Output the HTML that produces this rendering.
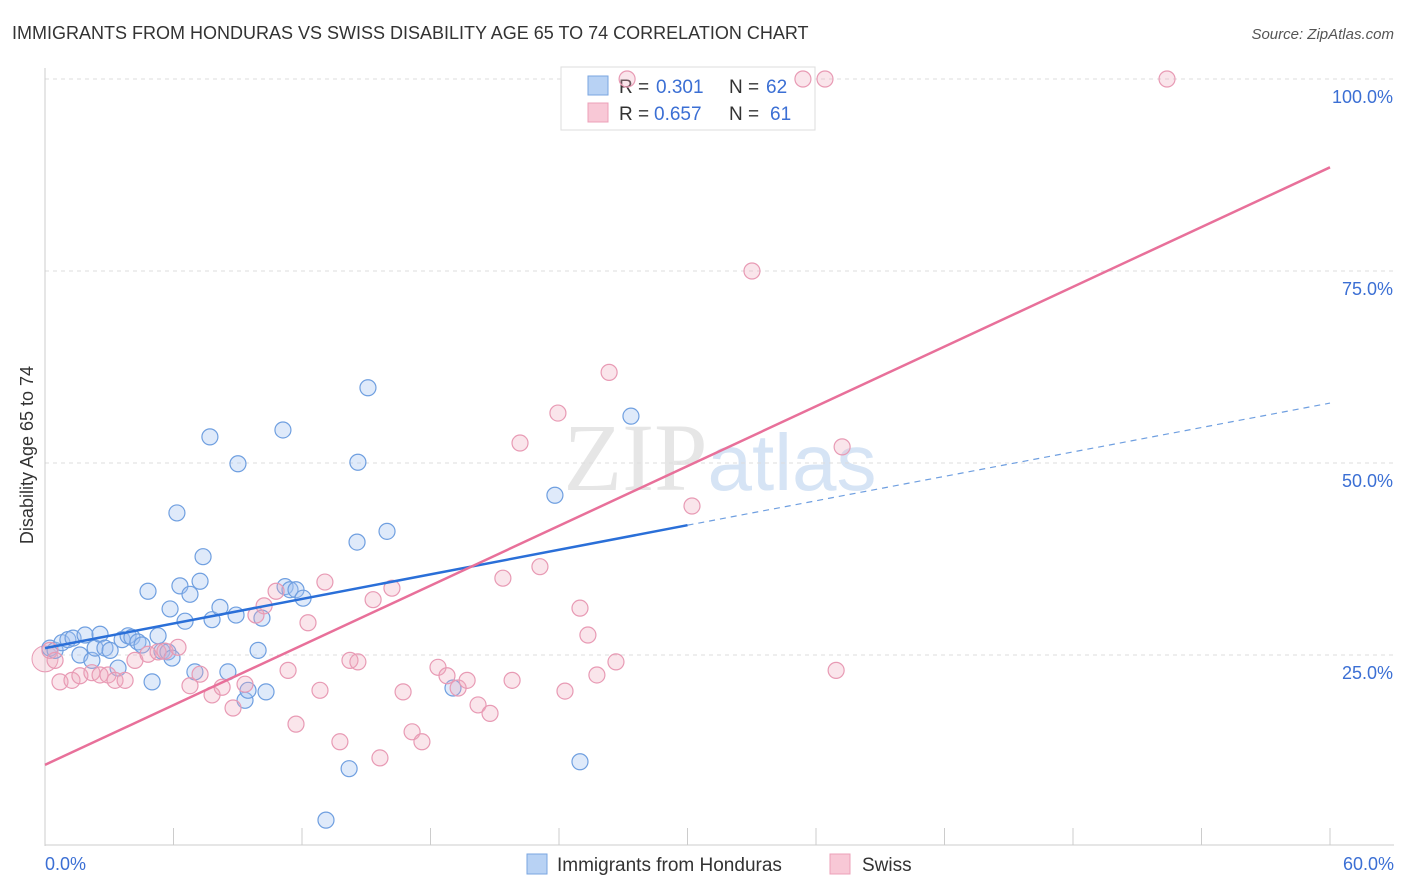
<!DOCTYPE html>
<html><head><meta charset="utf-8"><style>
body{margin:0;background:#fff;font-family:"Liberation Sans",sans-serif;}
svg{display:block}
</style></head><body>
<svg width="1406" height="892" xmlns="http://www.w3.org/2000/svg">
<text x="12" y="39" font-size="18" fill="#333">IMMIGRANTS FROM HONDURAS VS SWISS DISABILITY AGE 65 TO 74 CORRELATION CHART</text>
<text x="1394" y="39" font-size="15" fill="#555" font-style="italic" text-anchor="end">Source: ZipAtlas.com</text>
<text x="720" y="490" font-size="96" fill="#e6e6e6" text-anchor="middle" font-family="Liberation Serif,serif">ZIP<tspan fill="#d6e4f5" font-family="Liberation Sans,sans-serif" font-size="80">atlas</tspan></text>
<g id="grid"></g>
<line x1="45" y1="68" x2="45" y2="846" stroke="#ccc"/>
<line x1="45" y1="845" x2="1394" y2="845" stroke="#ccc"/>
<g id="ticks"></g>
<text transform="translate(33,455) rotate(-90)" font-size="18" fill="#333" text-anchor="middle">Disability Age 65 to 74</text>
<text x="45" y="870" font-size="18" fill="#3b6fd4">0.0%</text>
<text x="1394" y="870" font-size="18" fill="#3b6fd4" text-anchor="end">60.0%</text>
<g>
<rect x="561" y="67" width="254" height="63" fill="#fff" stroke="#ddd"/>
<rect x="588" y="76" width="20" height="19" fill="#b8d2f4" stroke="#7aa6e0"/>
<rect x="588" y="103" width="20" height="19" fill="#f8c8d6" stroke="#eca0b8"/>
<text x="619" y="93" font-size="19" fill="#333">R =</text>
<text x="656" y="93" font-size="19" fill="#3b6fd4">0.301</text>
<text x="729" y="93" font-size="19" fill="#333">N =</text>
<text x="766" y="93" font-size="19" fill="#3b6fd4">62</text>
<text x="619" y="120" font-size="19" fill="#333">R =</text>
<text x="654" y="120" font-size="19" fill="#3b6fd4">0.657</text>
<text x="729" y="120" font-size="19" fill="#333">N =</text>
<text x="770" y="120" font-size="19" fill="#3b6fd4">61</text>
</g>
<g id="points"></g>
<g id="lines"></g>
<g>
<rect x="527" y="854" width="20" height="20" fill="#b8d2f4" stroke="#7aa6e0"/>
<text x="557" y="871" font-size="19" fill="#333">Immigrants from Honduras</text>
<rect x="830" y="854" width="20" height="20" fill="#f8c8d6" stroke="#eca0b8"/>
<text x="862" y="871" font-size="19" fill="#333">Swiss</text>
</g>
</svg>
<script>
const yTicks=[25,50,75,100];
const yTickLabels=["25.0%","50.0%","75.0%","100.0%"];
const xTicks=[0,6,12,18,24,30,36,42,48,54,60];
const blueX=[0.23,0.47,0.79,1.07,1.31,1.63,1.87,2.19,2.34,2.57,2.8,3.04,3.41,3.6,3.88,4.06,4.34,4.53,4.81,5.0,5.28,5.46,5.74,5.84,5.93,6.16,6.3,6.54,6.77,7.0,7.24,7.38,7.7,7.8,8.17,8.54,8.92,9.01,9.34,9.48,9.95,10.13,10.32,11.11,11.21,11.44,11.72,12.05,14.2,13.12,14.57,14.61,15.08,15.97,19.05,23.81,24.98,27.36];
const blueY=[25.9,25.6,26.6,27.0,27.2,25.0,27.6,24.3,25.9,27.7,25.9,25.6,23.3,27.0,27.5,27.3,26.7,26.3,33.3,21.5,27.5,25.5,25.4,31.0,24.6,43.5,34.0,29.4,32.9,22.8,34.6,37.8,53.4,29.6,31.2,22.8,30.2,49.9,19.1,20.4,25.6,29.8,20.2,54.3,33.9,33.5,33.5,32.4,10.2,3.5,39.7,50.1,59.8,41.1,20.7,45.8,11.1,56.1];
const pinkX=[0.23,0.47,0.7,1.26,1.63,2.19,2.57,2.94,3.27,3.74,4.2,4.81,5.28,5.6,6.21,6.77,7.24,7.8,8.27,8.78,9.34,9.85,10.23,10.79,11.35,11.72,12.28,12.84,13.07,13.77,14.24,14.61,15.32,15.64,16.2,16.72,17.14,17.6,18.35,18.77,19.29,19.71,20.22,20.78,21.38,21.81,22.18,23.11,23.95,24.28,24.98,25.35,25.77,26.34,26.66,27.18,30.21,33.01,35.39,36.42,36.94,37.22,52.39];
const pinkY=[25.6,24.3,21.5,21.7,22.3,22.7,22.4,22.4,21.7,21.7,24.3,25.1,25.4,25.5,26.0,21.0,22.5,19.8,20.8,18.1,21.2,30.2,31.4,33.3,23.0,16.0,29.2,20.4,34.5,13.7,24.3,24.1,32.2,11.6,33.7,20.2,15.0,13.7,23.4,22.3,20.7,21.7,18.5,17.4,35.0,21.7,52.6,36.5,56.5,20.3,31.1,27.6,22.4,61.8,24.1,100,44.4,75.0,100,100,23.0,52.1,100];
const blueLine=[[0,25.9],[30,41.9],[60,57.8]];
const pinkLine=[[0,10.7],[60,88.5]];
const NS="http://www.w3.org/2000/svg";
const X=v=>45+v/60*1285, Y=v=>847-v*7.68;
function mk(t,a,p){const e=document.createElementNS(NS,t);for(const k in a)e.setAttribute(k,a[k]);document.getElementById(p).appendChild(e);return e;}
yTicks.forEach((t,i)=>{
 const g=mk('line',{x1:45,x2:1394,y1:Y(t),y2:Y(t),stroke:'#ddd','stroke-dasharray':'4,4'},'grid');
 
 
 const l=mk('text',{x:1393,y:Y(t)+24,'font-size':18,fill:'#3b6fd4','text-anchor':'end'},'grid');
 l.textContent=yTickLabels[i];
 
 
});
xTicks.forEach(t=>{
 const e=mk('line',{x1:X(t),x2:X(t),y1:828,y2:845,stroke:'#ccc'},'ticks');
 
 
});
const big=mk('circle',{cx:X(0),cy:Y(24.5),r:13,fill:'rgba(240,170,190,0.3)',stroke:'#e89ab4'},'points');


blueX.forEach((x,i)=>{
 const c=mk('circle',{cx:X(x),cy:Y(blueY[i]),r:8,fill:'rgba(164,196,240,0.35)',stroke:'#6f9fe0','stroke-width':1.2},'points');
 
 
});
pinkX.forEach((x,i)=>{
 const c=mk('circle',{cx:X(x),cy:Y(pinkY[i]),r:8,fill:'rgba(240,170,190,0.3)',stroke:'#e89ab4','stroke-width':1.2},'points');
 
 
});
const b1=mk('line',{x1:X(blueLine[0][0]),y1:Y(blueLine[0][1]),x2:X(blueLine[1][0]),y2:Y(blueLine[1][1]),stroke:'#2a6fd8','stroke-width':2.5},'lines');


const b2=mk('line',{x1:X(blueLine[1][0]),y1:Y(blueLine[1][1]),x2:X(blueLine[2][0]),y2:Y(blueLine[2][1]),stroke:'#6f9fe0','stroke-width':1.2,'stroke-dasharray':'6,5'},'lines');


const p1=mk('line',{x1:X(pinkLine[0][0]),y1:Y(pinkLine[0][1]),x2:X(pinkLine[1][0]),y2:Y(pinkLine[1][1]),stroke:'#e8709a','stroke-width':2.5},'lines');


</script>
</body></html>
